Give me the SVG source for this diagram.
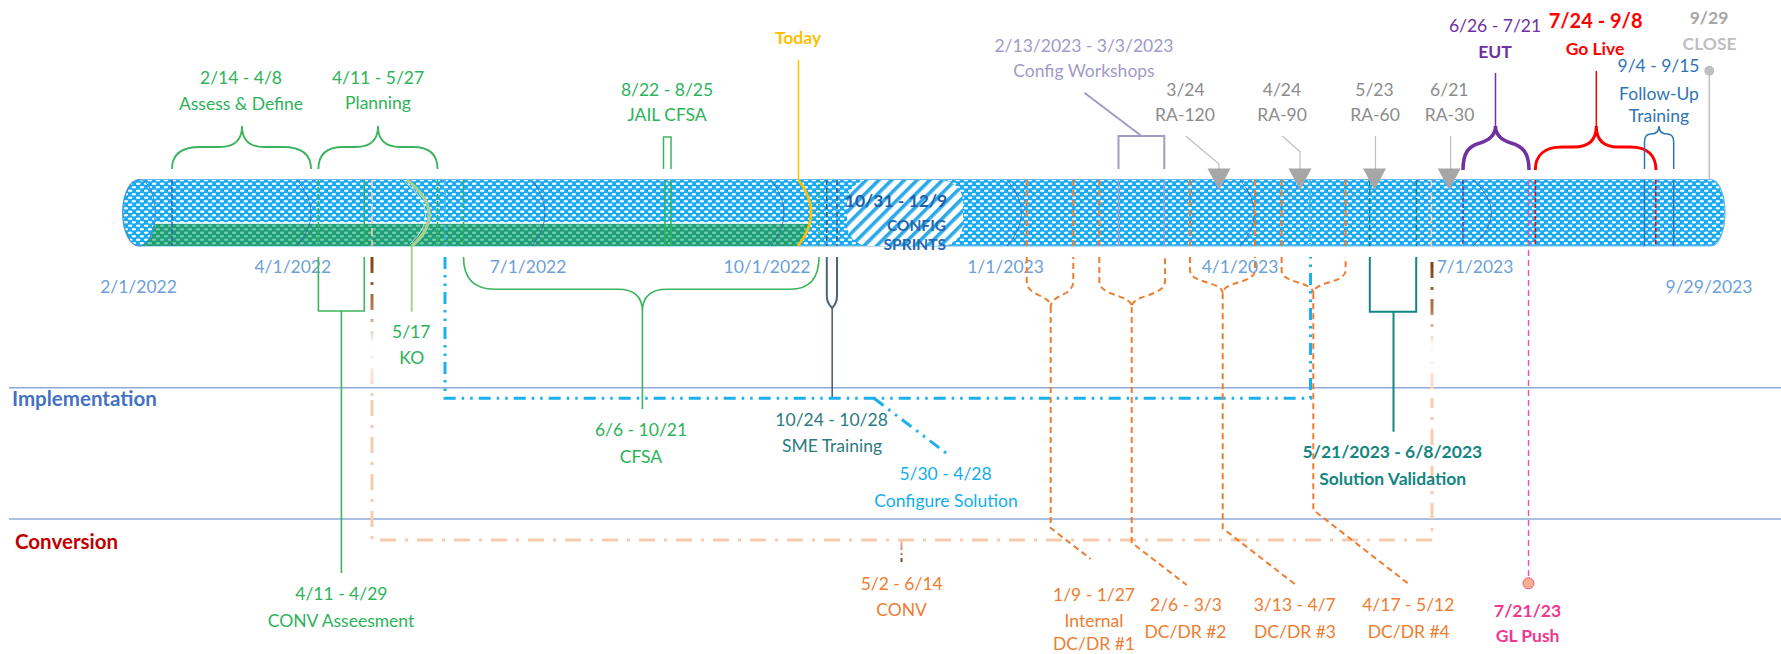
<svg xmlns="http://www.w3.org/2000/svg" width="1781" height="654" viewBox="0 0 1781 654">
<defs>
<pattern id="dots" width="8" height="7" patternUnits="userSpaceOnUse">
<rect width="8" height="7" fill="#19AAF0"/>
<ellipse cx="2" cy="1.75" rx="2.5" ry="1.25" fill="#ffffff" fill-opacity="0.95"/>
<ellipse cx="6" cy="5.25" rx="2.5" ry="1.25" fill="#ffffff" fill-opacity="0.95"/>
</pattern>
<pattern id="gdots" width="8" height="7" patternUnits="userSpaceOnUse">
<rect width="8" height="7" fill="#1E9F78"/>
<ellipse cx="2" cy="1.75" rx="2.4" ry="1.2" fill="#82D5B6" fill-opacity="0.85"/>
<ellipse cx="6" cy="5.25" rx="2.4" ry="1.2" fill="#82D5B6" fill-opacity="0.85"/>
</pattern>
<pattern id="hatch" width="9" height="9" patternUnits="userSpaceOnUse" patternTransform="rotate(45)">
<rect width="9" height="9" fill="#ffffff"/>
<rect width="3.6" height="9" fill="#2BA9E9"/>
</pattern>
<linearGradient id="brownL" gradientUnits="userSpaceOnUse" x1="0" y1="257" x2="0" y2="400">
<stop offset="0" stop-color="#84400F"/>
<stop offset="0.35" stop-color="#B07A55"/>
<stop offset="0.6" stop-color="#FFFFFF"/>
<stop offset="1" stop-color="#F8CBAD"/>
</linearGradient>
<linearGradient id="brownR" gradientUnits="userSpaceOnUse" x1="0" y1="262" x2="0" y2="400">
<stop offset="0" stop-color="#84400F"/>
<stop offset="0.35" stop-color="#B07A55"/>
<stop offset="0.6" stop-color="#FFFFFF"/>
<stop offset="1" stop-color="#F8CBAD"/>
</linearGradient>
<linearGradient id="brownC" gradientUnits="userSpaceOnUse" x1="0" y1="540" x2="0" y2="562">
<stop offset="0" stop-color="#F8CBAD"/>
<stop offset="1" stop-color="#84400F"/>
</linearGradient>
<style>
.t{font-family:Lato,'Liberation Sans',sans-serif;font-size:17.5px;text-anchor:middle}
.b{font-weight:bold}
.green{fill:#2DB35A}
.axis{fill:#6E9FD8}
.lav{fill:#A09BC8}
.gray{fill:#8C8C8C}
.orange{fill:#ED7D31}
.teal{fill:#13867F}
.sme{fill:#2B7B7E}
.cfg{fill:#12AEEE}
.pink{fill:#F0388F}
.purple{fill:#7030A0}
.red{fill:#FF0000}
.blue{fill:#2E75B6}
.sect{fill:none;stroke:#2F5D9E;stroke-width:1;stroke-opacity:0.7}
.orng{fill:none;stroke:#ED7D31;stroke-width:2;stroke-dasharray:6 4}
.inl{fill:none;stroke-width:1.5}
</style>
</defs>
<rect width="1781" height="654" fill="#ffffff"/>

<!-- swimlane lines -->
<g id="lanes">
<line x1="9" y1="387.7" x2="1781" y2="387.7" stroke="#8EAADB" stroke-width="1.6"/>
<line x1="9" y1="519" x2="1781" y2="519" stroke="#8EAADB" stroke-width="1.6"/>
<text x="12" y="405.5" font-family="Lato,'Liberation Sans',sans-serif" font-weight="bold" font-size="20.5" fill="#4472C4">Implementation</text>
<text x="15" y="549" font-family="Lato,'Liberation Sans',sans-serif" font-weight="bold" font-size="20.5" fill="#C00000">Conversion</text>
</g>

<!-- timeline cylinder -->
<g id="cylinder">
<path d="M139 179.5 H1711 A14 33.25 0 0 1 1711 246 H139 Z" fill="url(#dots)" stroke="#6DB6EA" stroke-width="1.2"/>
<path d="M139 223.5 H809 Q806 237 798 246 H139 Z" fill="url(#gdots)"/>
<line x1="139" y1="223" x2="809" y2="223" stroke="#ffffff" stroke-width="1.4"/>
<rect x="847" y="180" width="116" height="66" rx="22" fill="url(#hatch)"/>
<path class="sect" d="M297 180 Q325 213 297 246"/>
<path class="sect" d="M532 180 Q558 213 532 246"/>
<path class="sect" d="M771 180 Q797 213 771 246"/>
<path class="sect" d="M1007 180 Q1036 213 1007 246"/>
<path class="sect" d="M1240 180 Q1269 213 1240 246"/>
<path class="sect" d="M1473 180 Q1510 213 1473 246"/>
<!-- event marks inside cylinder -->
<line class="inl" x1="172" y1="180" x2="172" y2="246" stroke="#2E63B8" stroke-dasharray="5 2"/>
<line class="inl" x1="318.4" y1="180" x2="318.4" y2="246" stroke="#2DB35A" stroke-dasharray="5 2"/>
<line class="inl" x1="364.3" y1="180" x2="364.3" y2="246" stroke="#2DB35A" stroke-width="1"/>
<line class="inl" x1="372" y1="180" x2="372" y2="246" stroke="#F8CBAD" stroke-width="2.5" stroke-dasharray="8 4"/>
<line class="inl" x1="437.5" y1="180" x2="437.5" y2="246" stroke="#2DB35A" stroke-dasharray="5 2"/>
<line class="inl" x1="445" y1="180" x2="445" y2="246" stroke="#3FB6EE" stroke-dasharray="6 3"/>
<line class="inl" x1="463.5" y1="180" x2="463.5" y2="246" stroke="#2DB35A" stroke-width="1" stroke-dasharray="4 2"/>
<line class="inl" x1="665" y1="180" x2="665" y2="246" stroke="#2DB35A" stroke-width="1"/>
<line class="inl" x1="671" y1="180" x2="671" y2="246" stroke="#2DB35A" stroke-width="1"/>
<line class="inl" x1="819" y1="180" x2="819" y2="246" stroke="#2DB35A" stroke-dasharray="2 2"/>
<line class="inl" x1="826.8" y1="180" x2="826.8" y2="246" stroke="#3F5566" stroke-dasharray="5 3"/>
<line class="inl" x1="837" y1="180" x2="837" y2="246" stroke="#3F5566" stroke-dasharray="5 3"/>
<g stroke="#ED7D31" stroke-width="2" stroke-dasharray="6 4" fill="none">
<line x1="1026.7" y1="180" x2="1026.7" y2="246"/>
<line x1="1073.3" y1="180" x2="1073.3" y2="246"/>
<line x1="1099.3" y1="180" x2="1099.3" y2="246"/>
<line x1="1190" y1="180" x2="1190" y2="246"/>
<line x1="1255" y1="180" x2="1255" y2="246"/>
<line x1="1281.6" y1="180" x2="1281.6" y2="246"/>
<line x1="1345.6" y1="180" x2="1345.6" y2="246"/>
</g>
<line class="inl" x1="1118.5" y1="180" x2="1118.5" y2="246" stroke="#A09BC8" stroke-width="2"/>
<line class="inl" x1="1164.3" y1="180" x2="1164.3" y2="246" stroke="#A09BC8" stroke-width="2"/>
<line class="inl" x1="1310" y1="180" x2="1310" y2="246" stroke="#3FB6EE" stroke-dasharray="6 3"/>
<line class="inl" x1="1369.7" y1="180" x2="1369.7" y2="246" stroke="#13867F" stroke-width="2" stroke-dasharray="6 3"/>
<line class="inl" x1="1416.5" y1="180" x2="1416.5" y2="246" stroke="#13867F" stroke-width="2" stroke-dasharray="6 3"/>
<line class="inl" x1="1431.4" y1="180" x2="1431.4" y2="246" stroke="#F8CBAD" stroke-width="2.5" stroke-dasharray="8 4"/>
<line class="inl" x1="1463" y1="180" x2="1463" y2="246" stroke="#7030A0" stroke-width="1" stroke-dasharray="4 2"/>
<line class="inl" x1="1535.3" y1="180" x2="1535.3" y2="246" stroke="#FF0000" stroke-width="1.3" stroke-dasharray="4 2"/>
<line class="inl" x1="1644.5" y1="180" x2="1644.5" y2="246" stroke="#2E75B6" stroke-width="1.2"/>
<line class="inl" x1="1655.7" y1="180" x2="1655.7" y2="246" stroke="#FF0000" stroke-width="1.3" stroke-dasharray="4 2"/>
<line class="inl" x1="1673.7" y1="180" x2="1673.7" y2="246" stroke="#2E75B6" stroke-width="1.2"/>
<!-- left cap -->
<ellipse cx="139" cy="212.75" rx="16.3" ry="33.25" fill="url(#dots)" stroke="#3A8FD6" stroke-width="1.2"/>
<!-- Today and KO arcs -->
<path d="M798.5 180 Q824 213 798 246" fill="none" stroke="#FFC000" stroke-width="2.6"/>
<path d="M407 180 Q449 213 412 246" fill="none" stroke="#A9D18E" stroke-width="3.2"/>
<path d="M405 182 Q444 213 410 244" fill="none" stroke="#ffffff" stroke-width="1" stroke-opacity="0.7"/>
</g>

<!-- axis dates -->
<g id="axis-dates">
<text class="t axis" x="138.5" y="293">2/1/2022</text>
<text class="t axis" x="292.8" y="273">4/1/2022</text>
<text class="t axis" x="528" y="273">7/1/2022</text>
<text class="t axis" x="767" y="273">10/1/2022</text>
<text class="t axis" x="1005.5" y="273">1/1/2023</text>
<text class="t axis" x="1240" y="273">4/1/2023</text>
<text class="t axis" x="1475" y="273">7/1/2023</text>
<text class="t axis" x="1709" y="293">9/29/2023</text>
</g>

<!-- connectors -->
<g id="connectors" fill="none">
<path d="M172 169 Q172 147 200 147 L220 147 Q242 147 242 126 Q242 147 264 147 L283 147 Q311 147 311 169" stroke="#3CB45E" stroke-width="1.8"/>
<path d="M318.4 169 Q318.4 147 343 147 L356 147 Q378 147 378 126 Q378 147 400 147 L413 147 Q437.5 147 437.5 169" stroke="#3CB45E" stroke-width="1.8"/>
<path d="M663.5 169 V137 H671 V169" stroke="#3CB45E" stroke-width="1.5"/>
<line x1="798.5" y1="60" x2="798.5" y2="180" stroke="#FFC000" stroke-width="1.5"/>
<path d="M1084.4 92.7 L1141.5 136" stroke="#A09BC8" stroke-width="2"/>
<path d="M1118.5 169 V136 H1164.3 V169" stroke="#A09BC8" stroke-width="2"/>
<g stroke="#BFBFBF" stroke-width="1.2">
<path d="M1185.7 136 L1219 164 V170"/>
<path d="M1282.3 136 L1300 151.7 V170"/>
<path d="M1375.5 136 V170"/>
<path d="M1450.6 136 V170"/>
</g>
<g fill="#A6A6A6" stroke="none">
<path d="M1207.5 168.5 H1230.5 L1219 190 Z"/>
<path d="M1288.5 168.5 H1311.5 L1300 190 Z"/>
<path d="M1363 168.5 H1386 L1374.5 190 Z"/>
<path d="M1437.7 168.5 H1460.7 L1449.2 190 Z"/>
</g>
<path d="M1495.5 73 V126" stroke="#7030A0" stroke-width="1.5"/>
<path d="M1463 170 C1463 152 1469 146 1480 143 C1490 140 1495.5 134 1495.5 126 C1495.5 134 1501 140 1511 143 C1522 146 1529 152 1529 170" stroke="#7030A0" stroke-width="3.5"/>
<path d="M1596.3 71 V126" stroke="#FF0000" stroke-width="1.5"/>
<path d="M1535.3 170 C1535.3 155 1545 147 1562 147 L1574 147 Q1596.3 147 1596.3 126 Q1596.3 147 1618 147 L1630 147 C1647 147 1656 155 1656 170" stroke="#FF0000" stroke-width="3"/>
<path d="M1644.5 169 V142 Q1644.5 134 1651 134 Q1659 134 1659 126 Q1659 134 1667 134 Q1673.7 134 1673.7 142 V169" stroke="#2E75B6" stroke-width="1.5"/>
<line x1="1709.3" y1="70.7" x2="1709.3" y2="180" stroke="#BFBFBF" stroke-width="1.5"/>
<circle cx="1709.3" cy="70.7" r="5" fill="#BFBFBF"/>
<path d="M318.4 257 V311 H364.3 V257" stroke="#3CB45E" stroke-width="1.6"/>
<line x1="341.4" y1="311" x2="341.4" y2="573" stroke="#3CB45E" stroke-width="1.6"/>
<line x1="411.7" y1="246" x2="411.7" y2="311.7" stroke="#A9D18E" stroke-width="2"/>
<path d="M463.5 257 Q463.5 289.3 495 289.3 L618 289.3 Q642.4 289.3 642.4 311.7 Q642.4 289.3 667 289.3 L790 289.3 Q819 289.3 819 257" stroke="#3CB45E" stroke-width="1.6"/>
<line x1="642.4" y1="311.7" x2="642.4" y2="409" stroke="#3CB45E" stroke-width="1.6"/>
<path d="M826.8 257 V296 Q826.8 303 832.2 308 Q837 303 837 296 V257" stroke="#4A6678" stroke-width="2"/>
<line x1="832.2" y1="308" x2="832.2" y2="398" stroke="#4A6678" stroke-width="1.6"/>
<path d="M445 257 V398.3 H1310.5 V257" stroke="#1CB0EE" stroke-width="3" stroke-dasharray="12 6 2.5 6 2.5 6"/>
<path d="M874 398.3 L946 453" stroke="#1CB0EE" stroke-width="3" stroke-dasharray="12 6 2.5 6 2.5 6"/>
<path d="M372 400 V540 H1432 V400" stroke="#F8CBAD" stroke-width="3" stroke-dasharray="16 9 3 9"/>
<line x1="372" y1="257" x2="372" y2="400" stroke="url(#brownL)" stroke-width="3" stroke-dasharray="16 9 3 9"/>
<line x1="1432" y1="262" x2="1432" y2="400" stroke="url(#brownR)" stroke-width="3" stroke-dasharray="16 9 3 9"/>
<line x1="901.5" y1="540" x2="901.5" y2="562" stroke="url(#brownC)" stroke-width="2" stroke-dasharray="10 3 2 3"/>
<path class="orng" d="M1026.7 257 V281 C1026.7 297 1050.7 294 1050.7 307 C1050.7 294 1073.3 297 1073.3 281 V257"/>
<path class="orng" d="M1050.7 307 V528 L1090.7 559"/>
<path class="orng" d="M1099.3 257 V281 C1099.3 297 1131.7 294 1131.7 307 C1131.7 294 1165 297 1165 281 V257"/>
<path class="orng" d="M1131.7 307 V542.7 L1186.7 585"/>
<path class="orng" d="M1190 257 V270 C1190 284 1222.7 281 1222.7 293.3 C1222.7 281 1255 284 1255 270 V257"/>
<path class="orng" d="M1222.7 293.3 V528.3 L1296 585"/>
<path class="orng" d="M1281.6 257 V270 C1281.6 284 1313.3 281 1313.3 293.3 C1313.3 281 1345.6 284 1345.6 270 V257"/>
<path class="orng" d="M1313.3 293.3 V510 L1410 585"/>
<path d="M1369.8 257 V311.7 H1416.2 V257" stroke="#13867F" stroke-width="2"/>
<line x1="1393.5" y1="311.7" x2="1393.5" y2="431.7" stroke="#13867F" stroke-width="2"/>
<line x1="1528.5" y1="180" x2="1528.5" y2="577" stroke="#F0509F" stroke-width="1.4" stroke-dasharray="6 4"/>
<circle cx="1528.5" cy="583.3" r="5.5" fill="#F8B08A" stroke="#F0509F" stroke-width="1"/>
</g>

<!-- labels (nodes) -->
<g id="assess"><text class="t green" x="241" y="84">2/14 - 4/8</text><text class="t green" x="241" y="110">Assess &amp; Define</text></g>
<g id="planning"><text class="t green" x="378" y="84">4/11 - 5/27</text><text class="t green" x="378" y="109">Planning</text></g>
<g id="jail-cfsa"><text class="t green" x="667" y="95.5">8/22 - 8/25</text><text class="t green" x="667" y="121">JAIL CFSA</text></g>
<g id="today"><text class="t b" x="798" y="44" fill="#FFC000">Today</text></g>
<g id="config-workshops"><text class="t lav" x="1084" y="52">2/13/2023 - 3/3/2023</text><text class="t lav" x="1084" y="77">Config Workshops</text></g>
<g id="ra-120"><text class="t gray" x="1185.5" y="96">3/24</text><text class="t gray" x="1185" y="121">RA-120</text></g>
<g id="ra-90"><text class="t gray" x="1282" y="96">4/24</text><text class="t gray" x="1282" y="121">RA-90</text></g>
<g id="ra-60"><text class="t gray" x="1374.5" y="96">5/23</text><text class="t gray" x="1375" y="121">RA-60</text></g>
<g id="ra-30"><text class="t gray" x="1449.3" y="96">6/21</text><text class="t gray" x="1449.6" y="121">RA-30</text></g>
<g id="eut"><text class="t purple" x="1495" y="32">6/26 - 7/21</text><text class="t b purple" x="1495" y="58">EUT</text></g>
<g id="go-live"><text class="t b red" x="1595.6" y="28" style="font-size:20px">7/24 - 9/8</text><text class="t b red" x="1595" y="54.5">Go Live</text></g>
<g id="close"><text class="t b" x="1709" y="23.5" fill="#A6A6A6">9/29</text><text class="t b" x="1709.6" y="50" fill="#BFBFBF">CLOSE</text></g>
<g id="follow-up"><text class="t blue" x="1658.5" y="72">9/4 - 9/15</text><text class="t blue" x="1659" y="99.5">Follow-Up</text><text class="t blue" x="1659" y="121.5">Training</text></g>
<g id="config-sprints"><text class="t b" x="896" y="206.5" fill="#1F5FA8">10/31 - 12/9</text><text class="t b" x="946" y="231" fill="#2468B0" style="font-size:15.5px;text-anchor:end">CONFIG</text><text class="t b" x="946" y="250" fill="#2468B0" style="font-size:15.5px;text-anchor:end">SPRINTS</text></g>
<g id="ko"><text class="t green" x="411.2" y="338">5/17</text><text class="t green" x="411.8" y="364">KO</text></g>
<g id="cfsa"><text class="t green" x="641" y="436">6/6 - 10/21</text><text class="t green" x="641" y="463">CFSA</text></g>
<g id="sme-training"><text class="t sme" x="831.6" y="425.5">10/24 - 10/28</text><text class="t sme" x="832" y="452">SME Training</text></g>
<g id="configure-solution"><text class="t cfg" x="945.5" y="480">5/30 - 4/28</text><text class="t cfg" x="946" y="507">Configure Solution</text></g>
<g id="solution-validation"><text class="t b teal" x="1392.4" y="458">5/21/2023 - 6/8/2023</text><text class="t b teal" x="1392.7" y="484.5">Solution Validation</text></g>
<g id="conv-assessment"><text class="t green" x="341.4" y="600">4/11 - 4/29</text><text class="t green" x="341" y="627">CONV Asseesment</text></g>
<g id="conv"><text class="t orange" x="901.7" y="589.5">5/2 - 6/14</text><text class="t orange" x="901.6" y="615.5">CONV</text></g>
<g id="dcdr1"><text class="t orange" x="1094" y="601">1/9 - 1/27</text><text class="t orange" x="1094" y="627">Internal</text><text class="t orange" x="1094" y="649.5">DC/DR #1</text></g>
<g id="dcdr2"><text class="t orange" x="1186" y="611">2/6 - 3/3</text><text class="t orange" x="1185.5" y="638">DC/DR #2</text></g>
<g id="dcdr3"><text class="t orange" x="1294.7" y="611">3/13 - 4/7</text><text class="t orange" x="1295" y="638">DC/DR #3</text></g>
<g id="dcdr4"><text class="t orange" x="1408.3" y="611">4/17 - 5/12</text><text class="t orange" x="1408.8" y="638">DC/DR #4</text></g>
<g id="gl-push"><text class="t b pink" x="1527.6" y="616.5">7/21/23</text><text class="t b pink" x="1527.6" y="641.5">GL Push</text></g>
</svg>
